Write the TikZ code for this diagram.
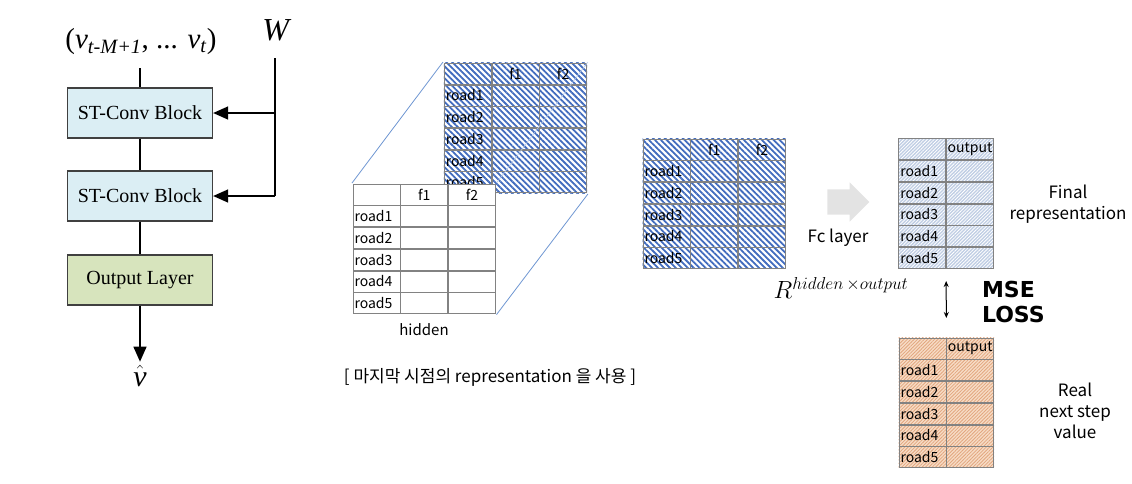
\documentclass[tikz,border=0pt]{standalone}
\usepackage{fontspec}
\setmainfont{Noto Sans CJK KR}
\newfontfamily\timesfont{Liberation Serif}
\newfontfamily\heavyfont{DejaVu Sans}
\usepackage{tikz}
\usetikzlibrary{matrix,arrows.meta,patterns.meta,shapes.arrows}
\definecolor{stconvcolor}{RGB}{219,238,244}
\definecolor{outcolor}{RGB}{215,228,189}
\definecolor{hatchblue}{RGB}{66,108,190}
\definecolor{gridgray}{RGB}{130,130,130}
\definecolor{linkblue}{RGB}{110,150,210}
\definecolor{finalfill}{RGB}{192,206,228}
\definecolor{realfill}{RGB}{247,220,198}
\definecolor{realhatch}{RGB}{226,166,126}
\tikzset{blockbox/.style={draw=black!75,line width=1.3pt,minimum width=145pt,minimum height=50pt,font=\timesfont\fontsize{20}{24}\selectfont}}
\tikzset{cellbox/.style={draw=gridgray,line width=0.7pt,minimum width=47pt,minimum height=21pt,inner sep=0pt,outer sep=0pt,anchor=center,font=\fontsize{14}{16}\selectfont}}
\tikzset{roadtable/.style={matrix of nodes,nodes in empty cells,inner sep=0pt,nodes={cellbox},column 1/.style={nodes={text width=44pt,align=left,inner xsep=1.5pt}}}}
\tikzset{bluehatch/.style={pattern={Lines[angle=-45,distance=4.2pt,line width=1.8pt]},pattern color=hatchblue}}
\tikzset{finalhatch/.style={preaction={fill=finalfill},pattern={Lines[angle=45,distance=2.4pt,line width=0.8pt]},pattern color=white}}
\tikzset{realhatch/.style={preaction={fill=realfill},pattern={Lines[angle=45,distance=2.4pt,line width=0.8pt]},pattern color=realhatch}}
\newcommand{\rlabel}[1]{\fontsize{#1}{#1}\selectfont}

\begin{document}
\begin{tikzpicture}[x=1pt,y=-1pt,>={Triangle[length=15pt,width=13pt]},line width=1.4pt]
		\useasboundingbox (0,0) rectangle (1132,483);
		%
		\node (inp) at (141,42) {\timesfont\rlabel{29}(\textit{v}\textsubscript{\textit{t-M+1}}, ... \textit{v}\textsubscript{\textit{t}})};
		\node (w) at (277,30) {\timesfont\rlabel{32}\textit{W}};
		\node[blockbox,fill=stconvcolor] (st1) at (140,113) {ST-Conv Block};
		\node[blockbox,fill=stconvcolor] (st2) at (140,196) {ST-Conv Block};
		\node[blockbox,fill=outcolor] (out) at (140,280) {Output Layer};
		\node (vhat) at (140,376) {\timesfont\rlabel{30}$\hat{\textit{v}}$};
		\coordinate (inend) at (140,68);
		\coordinate (wtop) at (275,58);
		\coordinate (wbend) at (275,196);
		%
		\draw (inend) -- (st1);
		\draw (st1) -- (st2);
		\draw (st2) -- (out);
		\draw[->] (out) -- (vhat.north);
		\draw (wtop) -- (wbend);
		\draw[->] (wbend) -- (st2.east);
		\draw[->] (wtop |- st1.east) -- (st1.east);
		%
		\matrix (back) [roadtable,bluehatch,anchor=north west] at (443,62) {
			& f1 & f2 \\
			road1 & & \\
			road2 & & \\
			road3 & & \\
			road4 & & \\
			road5 & & \\
		};
		\matrix (hid) [roadtable,fill=white,anchor=north west] at (352,183) {
			& f1 & f2 \\
			road1 & & \\
			road2 & & \\
			road3 & & \\
			road4 & & \\
			road5 & & \\
		};
		\draw[linkblue,line width=0.8pt] (hid.north west) -- (back.north west);
		\draw[linkblue,line width=0.8pt] (hid.south east) -- (back.south east);
		\draw[linkblue!50,line width=0.6pt] (hid.north east) -- (back.north east);
		\node[font=\rlabel{15}] (hidlab) at (424,330) {hidden};
		\node[font=\rlabel{17}] (caption) at (490,377) {[ 마지막 시점의 representation 을 사용 ]};
		%
		\matrix (mid) [roadtable,bluehatch,anchor=north west] at (642,138) {
			& f1 & f2 \\
			road1 & & \\
			road2 & & \\
			road3 & & \\
			road4 & & \\
			road5 & & \\
		};
		\node[single arrow,fill=black!11,minimum height=42pt,inner xsep=0pt,inner ysep=12pt,single arrow head extend=7pt] (fc) at (842,202) {};
		\node[font=\rlabel{17}] (fclab) at (838,238) {Fc layer};
		\node (rlab) at (841,288) {\rlabel{24}$R^{hidden\,\times output}$};
		%
		\matrix (final) [roadtable,finalhatch,anchor=north west] at (898,138) {
			& output \\
			road1 & \\
			road2 & \\
			road3 & \\
			road4 & \\
			road5 & \\
		};
		\matrix (real) [roadtable,realhatch,anchor=north west] at (898,337) {
			& output \\
			road1 & \\
			road2 & \\
			road3 & \\
			road4 & \\
			road5 & \\
		};
		\node[align=center,font=\fontsize{17}{21}\selectfont] (finallab) at (1068,204) {Final\\representation};
		\node[align=center,font=\fontsize{17}{21}\selectfont] (reallab) at (1075,411) {Real\\next step\\value};
		\node[anchor=west,align=left,font=\heavyfont\bfseries\fontsize{22}{25}\selectfont] (mse) at (978,302) {MSE\\LOSS};
		\draw[<->,>={Stealth[length=6pt,width=5pt]},line width=1pt,shorten <=12pt,shorten >=19pt] (final.south) -- (real.north);
	\end{tikzpicture}
\end{document}
